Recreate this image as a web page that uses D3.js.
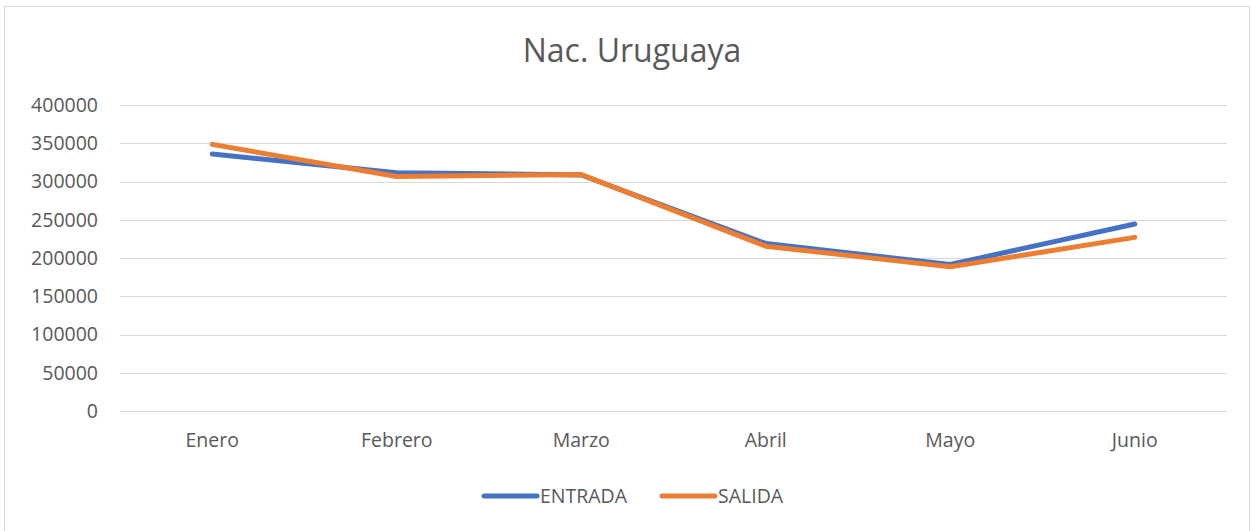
<!DOCTYPE html>
<html>
<head>
<meta charset="utf-8">
<script src="https://cdn.jsdelivr.net/npm/d3@7"></script>
<style>
  body { margin: 0; background: #fff; }
  text { font-family: "Open Sans", "Liberation Sans", sans-serif; fill: #595959; }
</style>
</head>
<body>
<div id="chart"></div>
<script>
// data
var months = ["Enero", "Febrero", "Marzo", "Abril", "Mayo", "Junio"];
var entrada = [336000, 311500, 308500, 219000, 191500, 244500];
var salida = [348500, 306500, 309000, 215500, 188500, 227000];
var yTicks = [0, 50000, 100000, 150000, 200000, 250000, 300000, 350000, 400000];

var w = 1251, h = 531;
var svg = d3.select("#chart").append("svg")
    .attr("width", w)
    .attr("height", h);

// chart border
svg.append("rect")
    .attr("x", 4.5).attr("y", 6.5)
    .attr("width", w - 6).attr("height", h - 6)
    .style("fill", "#fff")
    .style("stroke", "#d9d9d9");

var plotLeft = 120, plotRight = 1227, plotTop = 105, plotBottom = 411;

var x = d3.scaleBand()
    .domain(months)
    .range([plotLeft, plotRight]);
var y = d3.scaleLinear()
    .domain([0, 400000])
    .range([plotBottom, plotTop]);

// gridlines
svg.append("g")
    .selectAll("line")
    .data(yTicks)
    .enter().append("line")
    .attr("x1", plotLeft).attr("x2", plotRight)
    .attr("y1", function(d) { return Math.round(y(d)) + 0.5; })
    .attr("y2", function(d) { return Math.round(y(d)) + 0.5; })
    .style("stroke", "#d9d9d9")
    .style("stroke-width", 1);

// y axis labels
var yAxis = svg.append("g")
    .attr("transform", "translate(" + plotLeft + ",0)")
    .call(d3.axisLeft(y).tickValues(yTicks).tickSize(0).tickPadding(22).tickFormat(d3.format("d")));
yAxis.select(".domain").remove();
yAxis.selectAll("text")
    .style("font-size", "19.5px")
    .style("font-family", "'Open Sans', sans-serif")
    .style("fill", "#595959");

// x axis labels
var xAxis = svg.append("g")
    .attr("transform", "translate(0," + plotBottom + ")")
    .call(d3.axisBottom(x).tickSize(0).tickPadding(22));
xAxis.select(".domain").remove();
xAxis.selectAll("text")
    .style("font-size", "19.5px")
    .style("font-family", "'Open Sans', sans-serif")
    .style("fill", "#595959");

var line = d3.line()
    .x(function(d, i) { return x(months[i]) + x.bandwidth() / 2; })
    .y(function(d) { return y(d); });

var series = [
    {name: "ENTRADA", values: entrada, color: "#4472c4"},
    {name: "SALIDA", values: salida, color: "#ed7d31"}
];

series.forEach(function(s) {
    svg.append("path")
        .datum(s.values)
        .attr("d", line)
        .style("fill", "none")
        .style("stroke", s.color)
        .style("stroke-width", 5)
        .style("stroke-linecap", "round")
        .style("stroke-linejoin", "round");
});

// title
svg.append("text")
    .attr("x", 632)
    .attr("y", 62)
    .attr("text-anchor", "middle")
    .style("font-size", "32px")
    .text("Nac. Uruguaya");

// legend
var legendX = [484, 662];
series.forEach(function(s, i) {
    svg.append("line")
        .attr("x1", legendX[i]).attr("x2", legendX[i] + 53)
        .attr("y1", 496).attr("y2", 496)
        .style("stroke", s.color)
        .style("stroke-width", 5)
        .style("stroke-linecap", "round");
    svg.append("text")
        .attr("x", legendX[i] + 56)
        .attr("y", 496)
        .attr("dy", "0.35em")
        .style("font-size", "19.5px")
        .text(s.name);
});
</script>
</body>
</html>
